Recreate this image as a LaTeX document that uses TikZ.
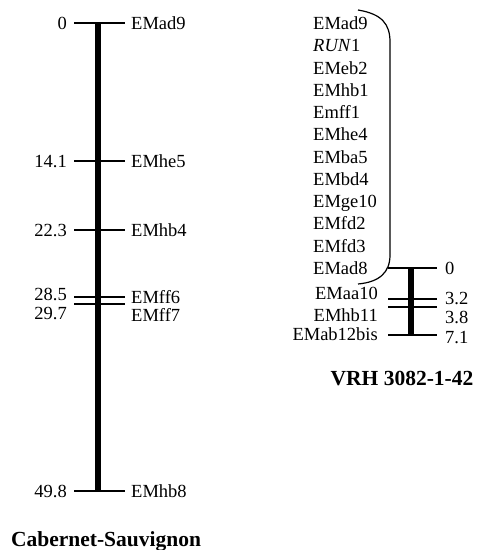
\documentclass[tikz,border=0pt]{standalone}
\usepackage{fontspec}
\setmainfont{Liberation Serif}
\usetikzlibrary{positioning}

\begin{document}
\begin{tikzpicture}[x=1pt,y=-1pt,
    locus/.style={inner sep=0pt,text height=12.4pt,text depth=0pt,font=\fontsize{18.5}{20}\selectfont},
    chrom/.style={line width=5.5pt},
    tickln/.style={line width=1.2pt},
    title/.style={inner sep=0pt,text height=14pt,text depth=0pt,font=\fontsize{21.5}{24}\selectfont\bfseries}]
  \useasboundingbox (0,0) rectangle (478,550);

  % Cabernet-Sauvignon map
  \coordinate (ctop) at (98,23);
  \coordinate (cbot) at (98,491);
  \draw[chrom] (ctop) -- (cbot);
  \foreach \y/\ny/\my/\d/\m [count=\i] in {23/23/23/0/EMad9, 161/161/161/14.1/EMhe5,
      230/230/230/22.3/EMhb4, 297/294/297/28.5/EMff6, 304/313/315/29.7/EMff7,
      491/491/491/49.8/EMhb8}{
    \draw[tickln] (74,\y) -- (125,\y);
    \node[locus,anchor=east] (cd\i) at (67,\ny) {\d};
    \node[locus,anchor=west] (cm\i) at (131,\my) {\m};
  }
  \node[title] (cabsv) at (106,539) {Cabernet-Sauvignon};

  % VRH 3082-1-42 map
  \foreach \m [count=\i] in {EMad9,\textit{RUN}1,EMeb2,EMhb1,Emff1,EMhe4,EMba5,
      EMbd4,EMge10,EMfd2,EMfd3,EMad8}
    \node[locus,anchor=west] (v\i) at (313,{23.3+22.25*(\i-1)}) {\m};
  \draw[tickln] (358,10) .. controls (382,14) and (390,24) .. (390,42)
    -- (390,255) .. controls (390,272) and (380,282) .. (358,284);
  \coordinate (vtop) at (411,268);
  \coordinate (vbot) at (411,335);
  \draw[chrom] (vtop) -- (vbot);
  \foreach \y/\ny/\d [count=\i] in {268/268/0, 299/298/3.2, 307/317/3.8, 335/337/7.1}{
    \draw[tickln] (388,\y) -- (437,\y);
    \node[locus,anchor=west] (vd\i) at (445,\ny) {\d};
  }
  \foreach \my/\m [count=\i] in {293/EMaa10, 315/EMhb11, 334/EMab12bis}
    \node[locus,anchor=east] (vm\i) at (378,\my) {\m};
  \node[title] (vrh) at (402,378) {VRH 3082-1-42};
\end{tikzpicture}
\end{document}
